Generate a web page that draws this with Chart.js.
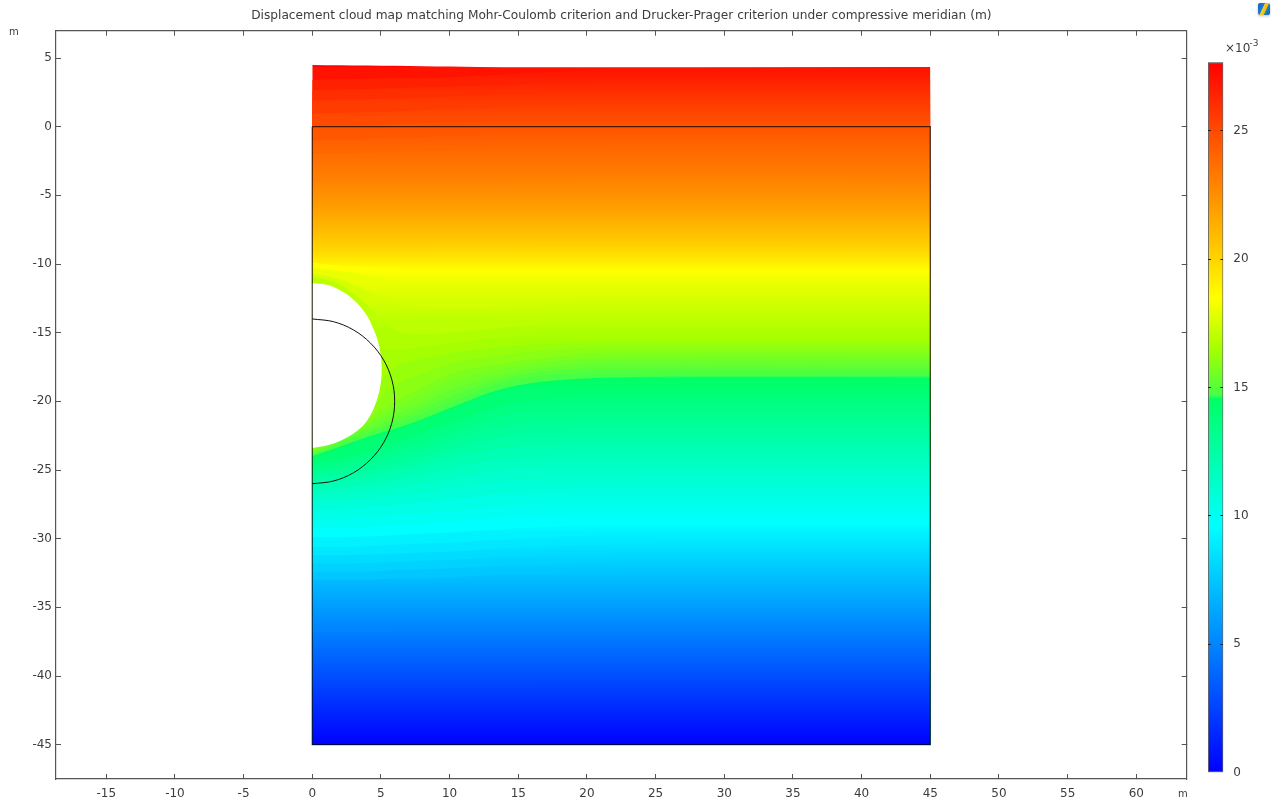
<!DOCTYPE html>
<html>
<head>
<meta charset="utf-8">
<title>Displacement cloud map</title>
<script src="https://cdn.jsdelivr.net/npm/chart.js@4"></script>
<style>
    html, body { margin: 0; padding: 0; background: #fff; }
    #mapChart { position: absolute; left: 0; top: 0; }
    #barChart { position: absolute; left: 1190px; top: 0; }
    #logo {
        position: absolute; left: 1258px; top: 3px; width: 12px; height: 12px;
        border-radius: 2px; box-shadow: 0 1px 3px rgba(0,0,0,0.25);
        background: linear-gradient(115deg, #1560c0 0%, #1c7fd8 38%, #f4d020 42%, #f0b818 62%, #1a86c8 66%, #0f5aa8 100%);
    }
</style>
</head>
<body>
<canvas id="mapChart" width="1271" height="800"></canvas>
<canvas id="barChart" width="81" height="800"></canvas>
<div id="logo"></div>
<script>
const titleText = 'Displacement cloud map matching Mohr-Coulomb criterion and Drucker-Prager criterion under compressive meridian (m)';
const xTicks = [-15, -10, -5, 0, 5, 10, 15, 20, 25, 30, 35, 40, 45, 50, 55, 60];
const yTicks = [5, 0, -5, -10, -15, -20, -25, -30, -35, -40, -45];
const barTicks = [0, 5, 10, 15, 20, 25];
const barMax = 27.66;

// contours of the displacement (x10^-3 m), y read at each xSamples position
const xSamples = [0, 2, 4, 6, 8, 10, 14, 18, 24, 32, 45];
const levels = [2.5, 5, 7.5, 7.9, 8.3, 8.7, 9.1, 9.6, 10, 10.4, 10.8, 11.2, 11.6, 12, 12.4, 12.8, 13.2, 13.6, 14, 14.55, 14.7, 15, 15.25, 15.5, 15.75, 16, 16.25, 16.5, 16.75, 17, 17.5, 18, 18.47, 20, 21, 22, 23, 24, 24.5, 25, 25.5, 26, 26.5, 27, 27.5];
const contours = [
    [-40.9, -40.9, -40.9, -40.9, -40.9, -40.9, -40.85, -40.8, -40.8, -40.8, -40.8],
    [-36.8, -36.8, -36.8, -36.75, -36.7, -36.7, -36.6, -36.6, -36.5, -36.5, -36.5],
    [-33, -33, -33, -32.9, -32.9, -32.8, -32.6, -32.5, -32.3, -32.3, -32.3],
    [-32.4, -32.4, -32.4, -32.3, -32.25, -32.15, -31.95, -31.85, -31.65, -31.6, -31.6],
    [-31.8, -31.8, -31.75, -31.7, -31.6, -31.55, -31.3, -31.2, -31, -30.95, -30.95],
    [-31.2, -31.2, -31.15, -31.1, -31, -30.95, -30.7, -30.55, -30.35, -30.3, -30.3],
    [-30.6, -30.6, -30.55, -30.45, -30.35, -30.3, -30.05, -29.85, -29.65, -29.6, -29.6],
    [-29.9, -29.9, -29.85, -29.75, -29.65, -29.55, -29.3, -29.1, -28.95, -28.85, -28.85],
    [-29.25, -29.2, -29.15, -29, -28.85, -28.75, -28.4, -28.2, -28, -27.9, -27.9],
    [-28.6, -28.55, -28.45, -28.3, -28.15, -28, -27.6, -27.35, -27.15, -27.05, -27.05],
    [-27.9, -27.85, -27.7, -27.55, -27.35, -27.15, -26.7, -26.4, -26.2, -26.1, -26.15],
    [-27.35, -27.25, -27.1, -26.85, -26.65, -26.4, -25.85, -25.5, -25.3, -25.2, -25.25],
    [-26.85, -26.75, -26.55, -26.3, -26, -25.65, -25, -24.65, -24.4, -24.3, -24.35],
    [-26.4, -26.3, -26.05, -25.75, -25.3, -24.9, -24.2, -23.8, -23.55, -23.45, -23.5],
    [-25.95, -25.8, -25.55, -25.15, -24.65, -24.2, -23.4, -23, -22.7, -22.6, -22.7],
    [-25.55, -25.4, -25.1, -24.65, -24.1, -23.55, -22.6, -22.15, -21.9, -21.8, -21.85],
    [-25.2, -25, -24.6, -24.1, -23.5, -22.9, -21.85, -21.35, -21.05, -20.95, -21.05],
    [-24.85, -24.6, -24.15, -23.55, -22.9, -22.25, -21.05, -20.5, -20.2, -20.1, -20.2],
    [-24.5, -24.2, -23.7, -23, -22.3, -21.6, -20.3, -19.7, -19.4, -19.3, -19.4],
    [-24.15, -23.45, -22.75, -22.15, -21.45, -20.65, -19.2, -18.6, -18.35, -18.25, -18.3],
    [-24, -23.3, -22.6, -22, -21.3, -20.5, -19.05, -18.45, -18.2, -18.1, -18.15],
    [-23.9, -23.1, -22.3, -21.6, -20.9, -20.1, -18.6, -18, -17.7, -17.6, -17.7],
    [-23.8, -22.97, -22.1, -21.3, -20.55, -19.65, -18.3, -17.7, -17.35, -17.25, -17.35],
    [-23.7, -22.85, -21.9, -21, -20.2, -19.2, -18, -17.4, -17, -16.9, -17],
    [-23.6, -22.72, -21.65, -20.5, -19.6, -18.6, -17.6, -17.05, -16.65, -16.55, -16.6],
    [-23.5, -22.6, -21.4, -20, -19, -18, -17.2, -16.7, -16.3, -16.2, -16.2],
    [-22, -21.5, -20.7, -18.8, -18, -17.25, -16.6, -16.2, -15.9, -15.85, -15.85],
    [-20, -20, -19.5, -17.5, -16.9, -16.5, -16, -15.7, -15.5, -15.5, -15.5],
    [-15, -15.5, -16, -16.2, -16, -15.75, -15.3, -15, -14.8, -14.8, -14.8],
    [-10.9, -11.5, -13, -14.8, -15.1, -15, -14.6, -14.3, -14.1, -14.1, -14.1],
    [-10.7, -11.1, -12, -12.9, -13.1, -13.2, -13.1, -12.9, -12.7, -12.7, -12.7],
    [-10.3, -10.5, -10.8, -11.2, -11.5, -11.6, -11.6, -11.5, -11.4, -11.4, -11.4],
    [-9.9, -10.1, -10.2, -10.3, -10.4, -10.5, -10.5, -10.5, -10.5, -10.5, -10.5],
    [-8.9, -8.9, -8.9, -8.9, -8.9, -8.85, -8.85, -8.8, -8.8, -8.8, -8.9],
    [-7.5, -7.5, -7.5, -7.5, -7.45, -7.45, -7.4, -7.35, -7.3, -7.3, -7.4],
    [-5.9, -5.9, -5.85, -5.85, -5.8, -5.8, -5.7, -5.65, -5.6, -5.6, -5.8],
    [-4, -4, -3.95, -3.9, -3.9, -3.85, -3.75, -3.7, -3.6, -3.6, -3.8],
    [-2, -1.95, -1.9, -1.85, -1.8, -1.7, -1.55, -1.4, -1.3, -1.3, -1.5],
    [-1, -0.95, -0.9, -0.8, -0.75, -0.7, -0.55, -0.4, -0.25, -0.25, -0.4],
    [0, 0.05, 0.1, 0.2, 0.25, 0.3, 0.45, 0.6, 0.8, 0.8, 0.7],
    [0.95, 1, 1.05, 1.1, 1.2, 1.25, 1.4, 1.55, 1.7, 1.7, 1.65],
    [1.9, 1.95, 2, 2.05, 2.1, 2.2, 2.35, 2.5, 2.6, 2.6, 2.6],
    [2.65, 2.7, 2.75, 2.8, 2.85, 2.9, 3.05, 3.2, 3.35, 3.4, 3.4],
    [3.4, 3.45, 3.5, 3.55, 3.55, 3.6, 3.8, 4, 4.25, 4.3, 4.34],
    [4.5, 4.48, 4.46, 4.44, 4.41, 4.38, 4.33, 4.32, 4.32, 4.33, 4.35]
];

// deformed opening, original circle and original block outline
const holeX = [0, 1, 2, 3, 3.8, 4.4, 4.85, 5.05, 4.95, 4.6, 4, 3.2, 2.2, 1.1, 0];
const holeY = [-11.4, -11.5, -11.9, -12.6, -13.5, -14.6, -15.9, -17.5, -18.9, -20.2, -21.4, -22.2, -22.8, -23.2, -23.4];
const circleX = [0, 1.55, 3, 4.24, 5.2, 5.8, 6, 5.8, 5.2, 4.24, 3, 1.55, 0];
const circleY = [-14, -14.2, -14.8, -15.76, -17, -18.45, -20, -21.55, -23, -24.24, -25.2, -25.8, -26];
const blockX = [0, 45, 45, 0, 0];
const blockY = [0, 0, -45, -45, 0];

// colour table of the legend
const stopValues = [0, 9.6, 14.55, 14.7, 16.5, 18.47, 27.66];
const stopColors = [[0, 0, 255], [0, 255, 255], [0, 255, 100], [70, 255, 70], [165, 255, 0], [255, 255, 0], [255, 0, 0]];

function colorAt(v) {
    let i = 0;
    while (i < stopValues.length - 2 && v > stopValues[i + 1]) i++;
    const t = Math.min(1, Math.max(0, (v - stopValues[i]) / (stopValues[i + 1] - stopValues[i])));
    const a = stopColors[i], b = stopColors[i + 1];
    return `rgb(${Math.round(a[0] + (b[0] - a[0]) * t)},${Math.round(a[1] + (b[1] - a[1]) * t)},${Math.round(a[2] + (b[2] - a[2]) * t)})`;
}

function toPoints(xs, ys) {
    return xs.map((x, i) => ({ x: x, y: ys[i] }));
}

// each contour paints everything below it, the lower ones then paint over
function bandFill(i) {
    return (c) => {
        const scale = c.chart.scales.y;
        const last = xSamples.length - 1;
        const y0 = scale ? scale.getPixelForValue(contours[i][last]) : NaN;
        const y1 = scale ? scale.getPixelForValue(i > 0 ? contours[i - 1][last] : -45) : NaN;
        if (!isFinite(y0) || !isFinite(y1)) return colorAt(levels[i]);
        const g = c.chart.ctx.createLinearGradient(0, y0, 0, y1);
        g.addColorStop(0, colorAt(levels[i]));
        g.addColorStop(1, colorAt(i > 0 ? levels[i - 1] : 0));
        return g;
    };
}

const lineColor = '#555';
const textColor = '#3c3c3c';
const fontName = "'DejaVu Sans'";

const datasets = [
    { data: toPoints(circleX, circleY), showLine: true, borderColor: '#111', borderWidth: 1, pointRadius: 0, tension: 0.35, fill: false },
    { data: toPoints(blockX, blockY), showLine: true, borderColor: 'rgba(0,0,0,0.7)', borderWidth: 1.3, pointRadius: 0, fill: false },
    { data: toPoints(holeX, holeY), showLine: true, borderColor: '#fff', borderWidth: 0, backgroundColor: '#fff', pointRadius: 0, tension: 0.4, fill: 'shape' }
];
levels.forEach((lv, i) => {
    datasets.push({
        data: toPoints(xSamples, contours[i]),
        showLine: true,
        borderWidth: 0,
        pointRadius: 0,
        cubicInterpolationMode: 'monotone',
        backgroundColor: bandFill(i),
        fill: { value: -45 }
    });
});

function axisOpts(position, ticksList, min, max, showLabels, size, padding) {
    const horizontal = position === 'bottom' || position === 'top';
    return {
        type: 'linear',
        position: position,
        min: min,
        max: max,
        afterBuildTicks: (s) => { s.ticks = ticksList.map(v => ({ value: v })); },
        afterFit: (s) => { if (horizontal) s.height = size; else s.width = size; },
        grid: { drawOnChartArea: false, tickLength: -5, tickColor: lineColor, tickWidth: 1 },
        border: { color: lineColor, width: 1.2 },
        ticks: { display: showLabels, padding: padding, color: textColor, autoSkip: false, maxRotation: 0, font: { family: fontName, size: 12 } }
    };
}

const cornerText = {
    id: 'cornerText',
    afterDraw(chart) {
        const ctx = chart.ctx;
        ctx.save();
        ctx.fillStyle = textColor;
        ctx.font = "10px " + fontName;
        ctx.textBaseline = 'middle';
        ctx.fillText('m', 9, 32);
        ctx.fillText('m', 1178, 794);
        ctx.restore();
    }
};

new Chart(document.getElementById('mapChart'), {
    type: 'scatter',
    data: { datasets: datasets },
    plugins: [cornerText],
    options: {
        responsive: false,
        animation: false,
        layout: { padding: { right: 84.3 } },
        plugins: {
            legend: { display: false },
            tooltip: { enabled: false },
            title: {
                display: true,
                text: titleText,
                fullSize: false,
                color: textColor,
                font: { family: fontName, size: 12.2, weight: 'normal', lineHeight: 1.2 },
                padding: { top: 8.6, bottom: 7.46 }
            }
        },
        scales: {
            x: axisOpts('bottom', xTicks, -18.66, 63.67, true, 21, 13),
            y: axisOpts('left', yTicks, -47.5, 6.99, true, 56, 9),
            x2: axisOpts('top', xTicks, -18.66, 63.67, false, 0, 0),
            y2: axisOpts('right', yTicks, -47.5, 6.99, false, 0, 0)
        }
    }
});

const exponentText = {
    id: 'exponentText',
    afterDraw(chart) {
        const ctx = chart.ctx;
        ctx.save();
        ctx.fillStyle = textColor;
        ctx.textBaseline = 'middle';
        ctx.font = "12px " + fontName;
        ctx.fillText('\u00d710', 35, 49);
        ctx.font = "9px " + fontName;
        ctx.fillText('-3', 59.5, 44);
        ctx.restore();
    }
};

const barTickColor = (c) => (c.tick && c.tick.value === 0 ? 'rgba(0,0,0,0)' : '#222');

new Chart(document.getElementById('barChart'), {
    type: 'bar',
    data: {
        labels: ['U'],
        datasets: [{
            data: [[0, barMax]],
            barPercentage: 1,
            categoryPercentage: 1,
            borderWidth: 1.2,
            borderColor: '#666',
            borderSkipped: false,
            backgroundColor: (c) => {
                const s = c.chart.scales.y;
                if (!s || !(s.bottom > s.top)) return '#00f';
                const g = c.chart.ctx.createLinearGradient(0, s.bottom, 0, s.top);
                stopValues.forEach(v => g.addColorStop(v / barMax, colorAt(v)));
                return g;
            }
        }]
    },
    plugins: [exponentText],
    options: {
        responsive: false,
        animation: false,
        layout: { padding: { left: 18, right: 0, top: 62.3, bottom: 27.3 } },
        plugins: { legend: { display: false }, tooltip: { enabled: false } },
        scales: {
            x: { display: false },
            y: {
                position: 'right',
                min: 0,
                max: barMax,
                afterBuildTicks: (s) => { s.ticks = barTicks.map(v => ({ value: v })); },
                afterFit: (s) => { s.width = 47.7; },
                grid: { drawOnChartArea: false, tickLength: -3, tickColor: barTickColor, z: 1 },
                border: { display: false },
                ticks: { padding: 13, color: textColor, font: { family: fontName, size: 12 } }
            },
            y2: {
                position: 'left',
                min: 0,
                max: barMax,
                afterBuildTicks: (s) => { s.ticks = barTicks.map(v => ({ value: v })); },
                afterFit: (s) => { s.width = 0; },
                grid: { drawOnChartArea: false, tickLength: -3, tickColor: barTickColor, z: 1 },
                border: { display: false },
                ticks: { display: false }
            }
        }
    }
});
</script>
</body>
</html>
